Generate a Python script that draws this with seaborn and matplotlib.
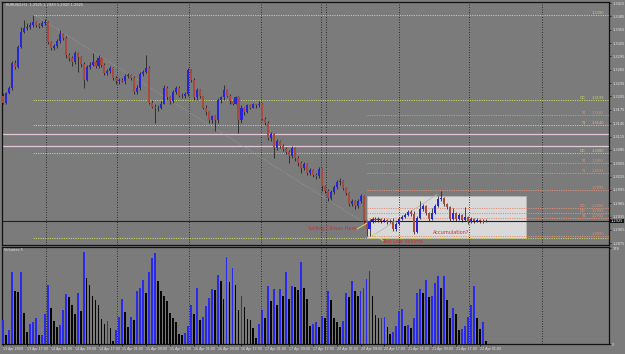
import numpy as np
import pandas as pd
import matplotlib
matplotlib.use("Agg")
import matplotlib.pyplot as plt
import seaborn as sns
from matplotlib.patches import Rectangle

# ---------------- data (EURUSD H1) ----------------
first_open = 1.3207
close = [1.3191, 1.3212, 1.3223, 1.3280, 1.3271, 1.3316, 1.3350, 1.3359, 1.3361, 1.3366,
         1.3372, 1.3366, 1.3363, 1.3370, 1.3372, 1.3327, 1.3314, 1.3318, 1.3329, 1.3345,
         1.3336, 1.3298, 1.3291, 1.3282, 1.3302, 1.3293, 1.3277, 1.3243, 1.3271, 1.3275,
         1.3282, 1.3273, 1.3291, 1.3275, 1.3257, 1.3262, 1.3268, 1.3246, 1.3239, 1.3241,
         1.3239, 1.3250, 1.3253, 1.3246, 1.3214, 1.3223, 1.3255, 1.3259, 1.3268, 1.3191,
         1.3182, 1.3178, 1.3180, 1.3189, 1.3225, 1.3203, 1.3194, 1.3214, 1.3223, 1.3207,
         1.3205, 1.3210, 1.3264, 1.3241, 1.3203, 1.3219, 1.3205, 1.3180, 1.3169, 1.3151,
         1.3160, 1.3151, 1.3196, 1.3203, 1.3219, 1.3207, 1.3194, 1.3189, 1.3203, 1.3151,
         1.3180, 1.3169, 1.3185, 1.3180, 1.3187, 1.3185, 1.3189, 1.3155, 1.3146, 1.3112,
         1.3121, 1.3090, 1.3106, 1.3094, 1.3088, 1.3081, 1.3072, 1.3090, 1.3067, 1.3056,
         1.3045, 1.3054, 1.3033, 1.3040, 1.3029, 1.3027, 1.3042, 1.3004, 1.2993, 1.2977,
         1.2990, 1.3002, 1.3013, 1.3015, 1.2999, 1.2988, 1.2963, 1.2970, 1.2959, 1.2970,
         1.2981, 1.2925, 1.2907, 1.2925, 1.2929, 1.2927, 1.2929, 1.2925, 1.2927, 1.2923,
         1.2925, 1.2907, 1.2918, 1.2929, 1.2934, 1.2938, 1.2945, 1.2940, 1.2900, 1.2932,
         1.2952, 1.2959, 1.2943, 1.2929, 1.2943, 1.2959, 1.2975, 1.2977, 1.2963, 1.2956,
         1.2929, 1.2943, 1.2929, 1.2938, 1.2927, 1.2934, 1.2923, 1.2929, 1.2925, 1.2927,
         1.2925, 1.2923, 1.2925]
high = [1.3212, 1.3214, 1.3228, 1.3284, 1.3286, 1.3320, 1.3361, 1.3377, 1.3370, 1.3372,
        1.3388, 1.3375, 1.3370, 1.3375, 1.3379, 1.3375, 1.3329, 1.3323, 1.3334, 1.3354,
        1.3347, 1.3341, 1.3302, 1.3295, 1.3307, 1.3304, 1.3295, 1.3282, 1.3275, 1.3282,
        1.3302, 1.3286, 1.3298, 1.3293, 1.3280, 1.3266, 1.3273, 1.3271, 1.3250, 1.3246,
        1.3246, 1.3255, 1.3257, 1.3255, 1.3250, 1.3230, 1.3259, 1.3264, 1.3298, 1.3273,
        1.3196, 1.3187, 1.3185, 1.3194, 1.3230, 1.3228, 1.3207, 1.3219, 1.3228, 1.3228,
        1.3212, 1.3214, 1.3268, 1.3266, 1.3246, 1.3223, 1.3221, 1.3207, 1.3185, 1.3173,
        1.3164, 1.3164, 1.3201, 1.3207, 1.3230, 1.3221, 1.3210, 1.3198, 1.3207, 1.3205,
        1.3185, 1.3182, 1.3189, 1.3189, 1.3191, 1.3189, 1.3194, 1.3191, 1.3158, 1.3149,
        1.3126, 1.3124, 1.3110, 1.3108, 1.3099, 1.3092, 1.3085, 1.3094, 1.3092, 1.3072,
        1.3060, 1.3058, 1.3056, 1.3045, 1.3042, 1.3033, 1.3047, 1.3045, 1.3006, 1.2997,
        1.2995, 1.3006, 1.3017, 1.3022, 1.3017, 1.3002, 1.2990, 1.2975, 1.2972, 1.2975,
        1.2986, 1.2984, 1.2927, 1.2929, 1.2934, 1.2934, 1.2934, 1.2932, 1.2932, 1.2929,
        1.2929, 1.2932, 1.2923, 1.2934, 1.2938, 1.2943, 1.2950, 1.2950, 1.2947, 1.2936,
        1.2970, 1.2963, 1.2961, 1.2945, 1.2954, 1.2963, 1.2981, 1.2993, 1.2979, 1.2965,
        1.2959, 1.2954, 1.2945, 1.2943, 1.2940, 1.2956, 1.2936, 1.2934, 1.2932, 1.2932,
        1.2929, 1.2929, 1.2929]
low = [1.3187, 1.3189, 1.3210, 1.3219, 1.3266, 1.3268, 1.3314, 1.3347, 1.3354, 1.3356,
       1.3361, 1.3361, 1.3359, 1.3361, 1.3366, 1.3323, 1.3309, 1.3309, 1.3314, 1.3325,
       1.3332, 1.3291, 1.3284, 1.3273, 1.3277, 1.3259, 1.3271, 1.3225, 1.3239, 1.3266,
       1.3273, 1.3268, 1.3268, 1.3271, 1.3253, 1.3253, 1.3257, 1.3241, 1.3234, 1.3234,
       1.3237, 1.3234, 1.3246, 1.3241, 1.3210, 1.3210, 1.3219, 1.3250, 1.3257, 1.3187,
       1.3178, 1.3146, 1.3173, 1.3176, 1.3187, 1.3198, 1.3187, 1.3191, 1.3210, 1.3203,
       1.3201, 1.3201, 1.3205, 1.3237, 1.3198, 1.3198, 1.3201, 1.3176, 1.3164, 1.3146,
       1.3146, 1.3128, 1.3146, 1.3191, 1.3198, 1.3203, 1.3189, 1.3185, 1.3187, 1.3124,
       1.3146, 1.3164, 1.3167, 1.3176, 1.3178, 1.3180, 1.3182, 1.3151, 1.3142, 1.3108,
       1.3106, 1.3067, 1.3085, 1.3090, 1.3083, 1.3076, 1.3056, 1.3067, 1.3060, 1.3049,
       1.3033, 1.3040, 1.3029, 1.3029, 1.3024, 1.3020, 1.3022, 1.2993, 1.2988, 1.2970,
       1.2972, 1.2986, 1.2997, 1.3006, 1.2995, 1.2984, 1.2959, 1.2959, 1.2952, 1.2954,
       1.2965, 1.2920, 1.2891, 1.2891, 1.2920, 1.2923, 1.2923, 1.2920, 1.2923, 1.2918,
       1.2920, 1.2902, 1.2902, 1.2916, 1.2927, 1.2932, 1.2936, 1.2936, 1.2896, 1.2898,
       1.2929, 1.2947, 1.2938, 1.2925, 1.2927, 1.2940, 1.2956, 1.2970, 1.2959, 1.2952,
       1.2925, 1.2927, 1.2925, 1.2927, 1.2923, 1.2925, 1.2918, 1.2920, 1.2920, 1.2923,
       1.2920, 1.2920, 1.2923]
volume = [45, 17, 26, 133, 98, 97, 133, 57, 23, 37, 40, 48, 16, 17, 56, 110, 66, 43, 32, 35,
          64, 93, 87, 72, 56, 95, 61, 171, 123, 110, 90, 82, 73, 46, 37, 43, 29, 6, 26, 51,
          84, 60, 31, 50, 45, 98, 104, 118, 95, 134, 159, 168, 117, 99, 90, 79, 58, 49, 40, 18,
          16, 20, 34, 73, 55, 104, 45, 51, 70, 85,
          102, 101, 128, 116, 84, 162, 115, 141, 109, 63, 90, 69, 46, 45, 29, 12, 37, 63, 48, 107,
          79, 102, 72, 102, 90, 133, 84, 107, 106, 101, 153, 104, 84, 34, 38, 40, 32, 52, 48, 98,
          81, 49, 40, 32, 43, 95, 88, 117, 98, 90, 98, 104, 121, 136, 89, 54, 48, 49, 50, 31,
          18, 23, 34, 61,
          65, 34, 35, 29, 48, 95, 102, 95, 118, 88, 89, 113, 126, 104, 127, 81, 48, 67, 55, 26,
          27, 34, 51, 73, 107, 49, 28, 40, 5]
time_labels = ["13 Apr 2009", "13 Apr 17:00", "14 Apr 01:00", "14 Apr 09:00", "14 Apr 17:00",
               "15 Apr 01:00", "15 Apr 09:00", "15 Apr 17:00", "16 Apr 01:00", "16 Apr 09:00",
               "16 Apr 17:00", "17 Apr 01:00", "17 Apr 09:00", "17 Apr 17:00", "20 Apr 01:00",
               "20 Apr 09:00", "20 Apr 17:00", "21 Apr 01:00", "21 Apr 09:00", "21 Apr 17:00",
               "22 Apr 01:00"]
price_ticks = [1.2875, 1.2905, 1.2935, 1.2965, 1.2995, 1.3025, 1.3055, 1.3085, 1.3115, 1.3145,
               1.3175, 1.3205, 1.3235, 1.3265, 1.3295, 1.3325, 1.3355, 1.3385, 1.3415]
# horizontal levels: price, tag, value label, colour kind
level_prices = [1.3388, 1.3198, 1.3164, 1.3140, 1.3078, 1.3056, 1.3033, 1.2995, 1.2954, 1.2943, 1.2932, 1.2891, 1.2887]
level_tags = ["", "DD", "T4", "T1", "DD", "T4", "T1", "", "DD", "DD", "T4", "", ""]
level_texts = ["1.3390", "1.3199", "1.3165", "1.3140", "1.3080", "1.3055", "1.3033", "1.2995",
               "1.2955", "1.2943", "1.2932", "1.2890", ""]
level_kind = ["g", "g", "s", "g", "g", "s", "s", "s", "s", "s", "s", "s", "g"]
pink_levels = [1.3121, 1.3094]
bid_price = 1.2925

# ---------------- style ----------------
sns.set_theme(style="white")
plt.rcParams['font.family'] = ['DejaVu Sans']
plt.rcParams['font.stretch'] = 'condensed'
BG = '#7b7b7b'
UP = '#2626d8'
DN = '#a84a3e'
TXT = '#e6e6e6'
GRN = '#c8d46a'
SAL = '#e0907a'
FS = 2.9

fig = plt.figure(figsize=(6.25, 3.54), dpi=100, facecolor=BG)
ax = fig.add_axes([0.0032, 1 - 245 / 354, 0.9712, (245 - 2) / 354])
axv = fig.add_axes([0.0032, 1 - 344 / 354, 0.9712, (344 - 247) / 354])
for a in (ax, axv):
    a.set_facecolor(BG)
    for s in a.spines.values():
        s.set_color('#111111')
        s.set_linewidth(0.9)

n = len(close)
idx = np.arange(n)
opens = [first_open] + close[:-1]
o = np.array(opens); c = np.array(close); h = np.array(high); l = np.array(low)

X0, X1 = -0.4, 203.4
grid_x = [14.4, 38.3, 62.4, 86.6, 106.6, 108.4, 132.9, 156.4, 180.9]

# box
ax.add_patch(Rectangle((122.1, 1.2887), 175.5 - 122.1, 1.2981 - 1.2887,
                       facecolor='#d9d9d9', edgecolor='#bdbdbd', lw=0.4, zorder=1))
# grid
for g in grid_x:
    for a in (ax, axv):
        a.axvline(g, color='#252525', lw=0.6, ls=(0, (1.2, 1.8)), zorder=1.2)
# levels
for p, tag, txt, k in zip(level_prices, level_tags, level_texts, level_kind):
    col = GRN if k == "g" else SAL
    start = 10.0 if k == "g" else 122.0
    ax.hlines(p, start, X1, colors=col, lw=0.7, linestyles=(0, (1.2, 1.2)), zorder=1.5)
    if txt:
        ax.text(201.8, p, txt, fontsize=FS, color=col, ha='right', va='bottom', zorder=5)
    if tag:
        ax.text(195.5, p, tag, fontsize=FS, color=col, ha='right', va='bottom', zorder=5)
for p in pink_levels:
    ax.axhline(p, color='#e2c8d8', lw=0.9, zorder=1.5)
ax.axhline(bid_price, color='#202020', lw=0.8, zorder=1.6)

# trend lines / annotations
ax.plot([10.7, 121.5], [1.3388, 1.2920], color='#9c9c9c', lw=0.6, ls=(0, (1, 1.5)), zorder=1.7)
ax.plot([123.8, 145.6], [1.2891, 1.2984], color='#b8b8b8', lw=0.6, zorder=1.7)
ax.plot([118.8, 122.1], [1.2907, 1.2920], color='#e8e060', lw=0.6, zorder=4)
ax.plot([123.8, 127.5], [1.2898, 1.2881], color='#e8e060', lw=0.6, zorder=4)
ax.text(118.6, 1.2907, "Selling Climax Here", fontsize=4.0, color='#c83232', ha='right', va='center', zorder=5)
ax.text(127.2, 1.2879, "Test Low Volume", fontsize=4.0, color='#c83232', ha='left', va='center', zorder=5)
ax.text(150.3, 1.2900, "Accumulation?", fontsize=4.0, color='#c83232', ha='center', va='center', zorder=5)

# candles
ax.vlines(idx, l, h, colors='#1c1c1c', lw=0.55, zorder=3)
up = c >= o
body_lo = np.minimum(o, c)
body_h = np.maximum(np.abs(c - o), 0.00008)
ax.bar(idx[up], body_h[up], bottom=body_lo[up], width=0.7, color=UP, edgecolor='none', linewidth=0, zorder=3.5)
ax.bar(idx[~up], body_h[~up], bottom=body_lo[~up], width=0.7, color=DN, edgecolor='none', linewidth=0, zorder=3.5)

ax.set_xlim(X0, X1)
ax.set_ylim(1.2871, 1.34175)
ax.yaxis.tick_right()
ax.set_yticks(price_ticks)
ax.set_yticklabels([f"{t:.4f}" for t in price_ticks])
ax.tick_params(axis='y', right=True, length=1.5, width=0.5, color='#111111', labelsize=FS,
               labelcolor=TXT, pad=0.8)
ax.tick_params(axis='x', bottom=False, labelbottom=False)
ax.text(1.003, (bid_price - 1.2871) / (1.34175 - 1.2871), f"{bid_price:.4f}", transform=ax.transAxes,
        fontsize=FS, color='white', ha='left', va='center',
        bbox=dict(boxstyle='square,pad=0.12', fc='#111111', ec='none'), zorder=6, clip_on=False)
ax.text(0.006, 0.994, "EURUSD,H1  1.2925 1.2929 1.2920 1.2925", transform=ax.transAxes,
        fontsize=FS, color=TXT, ha='left', va='top')

# volumes
dirs = ['up'] + ['up' if volume[i] > volume[i - 1] else 'down' for i in range(1, n)]
df = pd.DataFrame({'bar': idx, 'volume': volume, 'dir': dirs})
sns.barplot(data=df, x='bar', y='volume', hue='dir', palette={'up': '#2a2aee', 'down': '#060606'},
            native_scale=True, dodge=False, width=0.6, legend=False, errorbar=None,
            saturation=1, linewidth=0, edgecolor='none', ax=axv, zorder=3)
axv.set_xlim(X0, X1)
axv.set_ylim(0, 180)
axv.set_xlabel(""); axv.set_ylabel("")
axv.yaxis.tick_right()
axv.set_yticks([0, 178])
axv.set_yticklabels(["0", "178"])
axv.tick_params(axis='y', right=True, left=False, length=1.5, width=0.5, color='#111111', labelsize=FS,
                labelcolor=TXT, pad=0.8)
tick_pos = list(range(0, 8 * len(time_labels), 8))
axv.set_xticks(tick_pos)
axv.set_xticklabels(time_labels, ha='left')
axv.tick_params(axis='x', bottom=True, length=1.2, width=0.5, color='#111111', labelsize=2.6,
                labelcolor=TXT, pad=0.8)
axv.text(0.004, 0.985, "Volumes 5", transform=axv.transAxes, fontsize=FS, color=TXT, ha='left', va='top')

fig.savefig("out.png", dpi=100, facecolor=BG)
